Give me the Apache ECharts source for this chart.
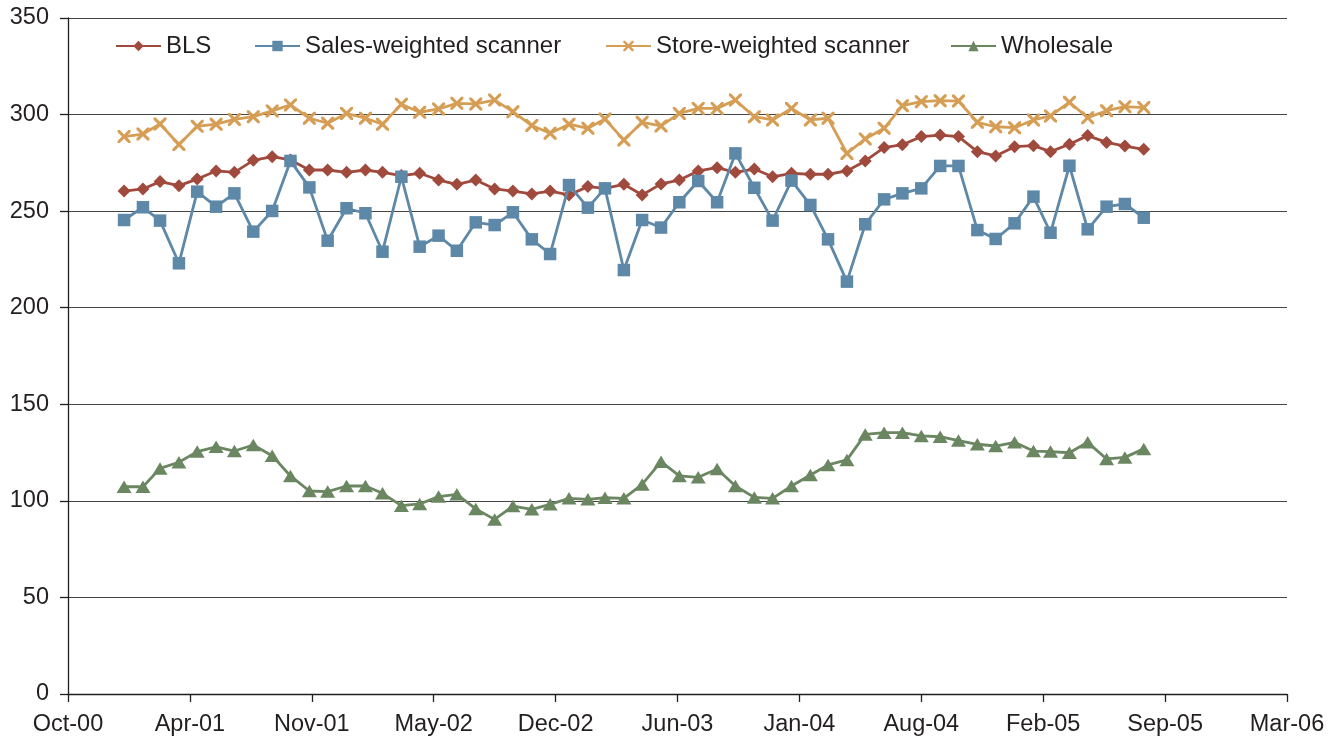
<!DOCTYPE html>
<html>
<head>
<meta charset="utf-8">
<script src="https://cdn.jsdelivr.net/npm/echarts@6/dist/echarts.min.js"></script>
<style>html,body{margin:0;padding:0;background:#fff}#c{width:1330px;height:740px}</style>
</head>
<body>
<div id="c"></div>
<script>
const months = ["2001-01","2001-02","2001-03","2001-04","2001-05","2001-06","2001-07","2001-08","2001-09","2001-10","2001-11","2001-12",
"2002-01","2002-02","2002-03","2002-04","2002-05","2002-06","2002-07","2002-08","2002-09","2002-10","2002-11","2002-12",
"2003-01","2003-02","2003-03","2003-04","2003-05","2003-06","2003-07","2003-08","2003-09","2003-10","2003-11","2003-12",
"2004-01","2004-02","2004-03","2004-04","2004-05","2004-06","2004-07","2004-08","2004-09","2004-10","2004-11","2004-12",
"2005-01","2005-02","2005-03","2005-04","2005-05","2005-06","2005-07","2005-08"];
const bls = [260.4,261.5,265.3,263.2,266.6,270.8,270.1,276.3,278.2,276.5,271.3,271.3,
270.1,271.3,270.1,268.4,269.6,266.1,263.9,266.1,261.5,260.4,258.9,260.4,
258.4,262.7,261.8,263.9,258.4,264.1,266.1,270.8,272.5,270.1,271.8,267.8,
269.6,269.1,269.1,270.8,276.0,282.9,284.4,288.6,289.4,288.6,280.8,278.6,
283.4,283.9,280.8,284.6,289.1,285.6,283.7,282.0];
const salesWeighted = [245.4,252.0,245.1,223.0,260.1,252.3,259.2,239.4,250.1,276.0,262.3,234.7,
251.5,248.9,229.0,267.8,231.6,237.3,229.5,244.2,242.8,249.4,235.4,227.8,
263.5,251.8,261.8,219.5,245.4,241.5,254.6,265.6,254.6,279.9,262.1,245.1,
265.8,253.2,235.4,213.5,243.2,256.1,259.2,261.8,273.4,273.4,240.2,235.6,
243.7,257.5,238.8,273.5,240.6,252.3,253.7,246.6];
const storeWeighted = [288.6,289.9,295.1,284.5,293.9,295.0,297.5,298.9,301.9,305.0,298.1,295.5,
300.6,298.1,295.0,305.3,301.2,302.9,305.8,305.5,307.5,301.5,294.3,290.3,
295.0,292.9,297.7,286.8,296.0,294.1,300.6,303.2,303.2,307.5,298.9,297.2,
303.2,297.2,298.1,279.9,287.4,292.9,304.6,306.7,307.2,307.0,296.0,293.7,
293.2,297.2,299.3,306.4,298.4,302.0,304.1,303.6];
const wholesale = [107.3,107.3,116.8,120.0,125.5,128.0,125.8,128.9,123.4,112.9,105.1,104.8,
107.7,107.7,103.9,97.5,98.4,102.2,103.4,95.8,90.4,97.3,95.6,98.2,
101.3,100.8,101.6,101.3,108.5,120.3,112.9,112.2,116.5,107.7,101.8,101.3,
107.7,113.4,118.6,121.2,134.4,135.3,135.3,133.6,133.2,131.2,129.3,128.4,
130.3,125.8,125.5,124.9,130.3,121.7,122.5,126.9];
const seriesNames = ["BLS","Sales-weighted scanner","Store-weighted scanner","Wholesale"];
const monthAbbr = ["Jan","Feb","Mar","Apr","May","Jun","Jul","Aug","Sep","Oct","Nov","Dec"];

// x axis: days since 1 Oct 2000, ticks every 200 days (Excel date axis)
const ORIGIN = Date.UTC(2000, 9, 1);
const DAY = 86400000;
function dayOffset(s){ const [y,m] = s.split("-").map(Number); return (Date.UTC(y, m-1, 1) - ORIGIN)/DAY; }
function fmt(v){ const d = new Date(ORIGIN + v*DAY); return monthAbbr[d.getUTCMonth()] + "-" + String(d.getUTCFullYear()).slice(2); }
function pairs(arr){ return months.map((m,i)=>[dayOffset(m), arr[i]]); }

const crossPath = "path://M0,0L1.7,0L5,3.3L8.3,0L10,0L10,1.7L6.7,5L10,8.3L10,10L8.3,10L5,6.7L1.7,10L0,10L0,8.3L3.3,5L0,1.7Z";
const colors = ["#A04A3E","#5E88A8","#D69E55","#6B8761"];
const symbols = ["diamond","rect",crossPath,"triangle"];
const sizes = [13,12.5,13,[15,12.5]];
const datas = [bls, salesWeighted, storeWeighted, wholesale];
const legendLefts = [110, 249, 600, 945];

const chart = echarts.init(document.getElementById('c'), null, {renderer:'canvas'});
const font = "'Liberation Sans', Arial, Helvetica, sans-serif";
chart.setOption({
  animation:false,
  backgroundColor:'#fff',
  color: colors,
  legend: seriesNames.map((n,i)=>({
    data:[n], left: legendLefts[i], top: 29, itemWidth: 45, itemHeight: 13,
    textStyle:{fontFamily:font, fontSize:24, color:'#231f20'}, selectedMode:false
  })),
  grid:{left:68, right:43, top:18, bottom:46, containLabel:false},
  xAxis:{
    type:'value', min:0, max:2000, interval:200,
    axisLine:{show:true, onZero:false, lineStyle:{color:'#231f20', width:1.3}},
    axisTick:{show:true, length:8, inside:false, lineStyle:{color:'#231f20', width:1.3}},
    axisLabel:{formatter:fmt, fontFamily:font, fontSize:23.5, color:'#231f20', margin:19},
    splitLine:{show:false}
  },
  yAxis:{
    type:'value', min:0, max:350, interval:50,
    axisLine:{show:true, lineStyle:{color:'#231f20', width:1.3}},
    axisTick:{show:true, length:8, lineStyle:{color:'#231f20', width:1.3}},
    axisLabel:{fontFamily:font, fontSize:23.5, color:'#231f20', margin:19},
    splitLine:{show:true, lineStyle:{color:'#454545', width:1.2}}
  },
  series: seriesNames.map((n,i)=>({
    name:n, type:'line', data:pairs(datas[i]),
    symbol:symbols[i], symbolSize:sizes[i], showAllSymbol:true,
    lineStyle:{color:colors[i], width:2.8},
    itemStyle:{color:colors[i], borderWidth:0},
    z: 2+i
  }))
});
</script>
</body>
</html>
